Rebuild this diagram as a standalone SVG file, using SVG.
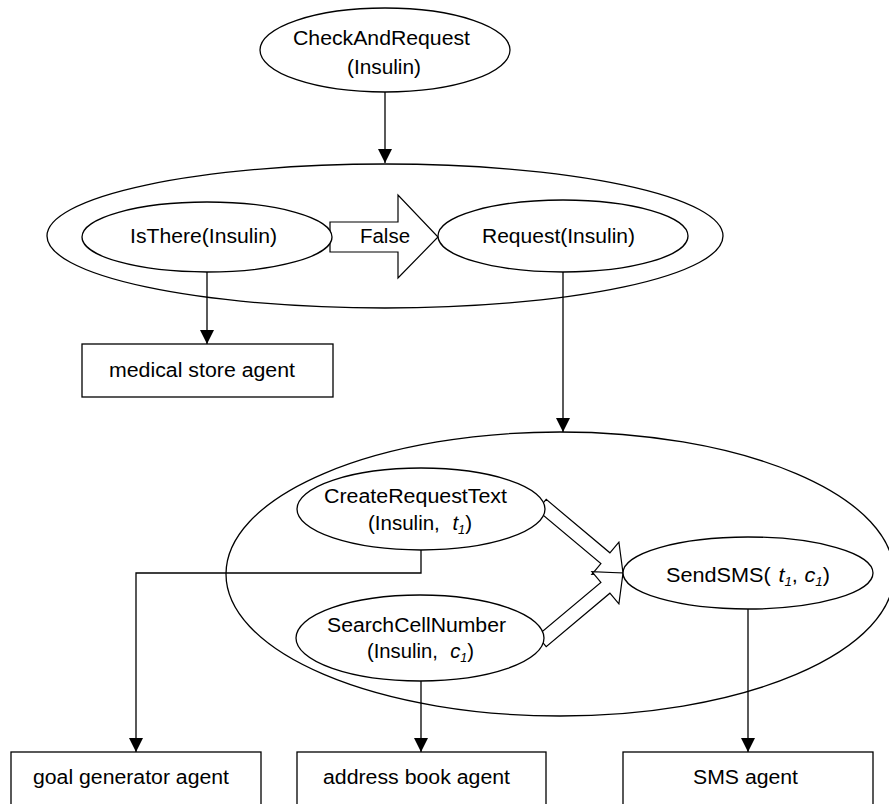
<svg xmlns="http://www.w3.org/2000/svg" width="889" height="804" viewBox="0 0 889 804">
  <style>
    .shape { fill: #ffffff; stroke: #000000; stroke-width: 1.3; }
    .outline { fill: none; stroke: #000000; stroke-width: 1.3; }
    .link { fill: none; stroke: #000000; stroke-width: 1.3; }
    .block { fill: #ffffff; stroke: #000000; stroke-width: 1.2; stroke-linejoin: miter; }
    text { font-family: "Liberation Sans", Arial, Helvetica, sans-serif; font-size: 19.5px; fill: #000000; }
    .it { font-style: italic; }
    .sub { font-style: italic; font-size: 12px; }
  </style>
  <defs>
    <marker id="head" markerWidth="14" markerHeight="14" refX="14" refY="7" orient="auto" markerUnits="userSpaceOnUse">
      <path d="M0,0 L14,7 L0,14 Z" fill="#000000"/>
    </marker>
  </defs>

  <!-- composite goal containers -->
  <g id="check-branch-group">
    <ellipse class="outline" cx="385" cy="236" rx="338" ry="72"/>
  </g>
  <g id="request-plan-group">
    <ellipse class="outline" cx="560" cy="574" rx="334" ry="142"/>
  </g>

  <!-- connectors -->
  <g id="connectors">
    <line class="link" x1="385" y1="92" x2="385" y2="163" marker-end="url(#head)"/>
    <line class="link" x1="207" y1="272" x2="207" y2="344" marker-end="url(#head)"/>
    <line class="link" x1="563" y1="272" x2="563" y2="432" marker-end="url(#head)"/>
    <polyline class="link" points="421,550 421,573 136,573 136,752" marker-end="url(#head)"/>
    <line class="link" x1="421" y1="681" x2="421" y2="752" marker-end="url(#head)"/>
    <line class="link" x1="748" y1="609" x2="748" y2="752" marker-end="url(#head)"/>
    <!-- block arrows -->
    <polygon id="false-arrow" class="block" points="330,222 398,222 398,195 438,237 398,278 398,252 330,252"/>
    <text x="360" y="243" textLength="50" lengthAdjust="spacingAndGlyphs">False</text>
    <polygon class="block" points="537.2,510.2 546.2,499.4 609.9,552.8 618.9,542.1 623,573 591.9,574.3 600.9,563.6"/>
    <polygon class="block" points="537.2,635.8 546.2,646.6 609.9,593.2 618.9,603.9 623,573 591.9,571.7 600.9,582.4"/>
  </g>

  <!-- goal nodes -->
  <g id="check-and-request">
    <ellipse class="shape" cx="385" cy="50" rx="125" ry="42"/>
    <text x="293" y="45" textLength="177" lengthAdjust="spacingAndGlyphs">CheckAndRequest</text>
    <text x="347" y="74" textLength="74" lengthAdjust="spacingAndGlyphs">(Insulin)</text>
  </g>
  <g id="is-there">
    <ellipse class="shape" cx="207" cy="237" rx="125" ry="35"/>
    <text x="130" y="243" textLength="147" lengthAdjust="spacingAndGlyphs">IsThere(Insulin)</text>
  </g>
  <g id="request">
    <ellipse class="shape" cx="563" cy="236" rx="125" ry="36"/>
    <text x="482" y="243" textLength="153" lengthAdjust="spacingAndGlyphs">Request(Insulin)</text>
  </g>
  <g id="create-request-text">
    <ellipse class="shape" cx="421" cy="509" rx="124" ry="41"/>
    <text x="324" y="503" textLength="183" lengthAdjust="spacingAndGlyphs">CreateRequestText</text>
    <text x="368" y="530" textLength="104" lengthAdjust="spacingAndGlyphs">(Insulin,<tspan class="it" dx="12">t</tspan><tspan class="sub" dy="4">1</tspan><tspan dy="-4">)</tspan></text>
  </g>
  <g id="search-cell-number">
    <ellipse class="shape" cx="420" cy="638" rx="124" ry="43"/>
    <text x="327" y="632" textLength="179" lengthAdjust="spacingAndGlyphs">SearchCellNumber</text>
    <text x="367" y="658" textLength="107" lengthAdjust="spacingAndGlyphs">(Insulin,<tspan class="it" dx="12">c</tspan><tspan class="sub" dy="4">1</tspan><tspan dy="-4">)</tspan></text>
  </g>
  <g id="send-sms">
    <ellipse class="shape" cx="748" cy="573" rx="125" ry="36"/>
    <text x="666" y="582" textLength="164" lengthAdjust="spacingAndGlyphs">SendSMS(<tspan class="it" dx="7">t</tspan><tspan class="sub" dy="4">1</tspan><tspan dy="-4">,</tspan><tspan class="it" dx="6">c</tspan><tspan class="sub" dy="4">1</tspan><tspan dy="-4">)</tspan></text>
  </g>

  <!-- agents -->
  <g id="medical-store-agent">
    <rect class="shape" x="82" y="344" width="251" height="53"/>
    <text x="109" y="377" textLength="186" lengthAdjust="spacingAndGlyphs">medical store agent</text>
  </g>
  <g id="goal-generator-agent">
    <rect class="shape" x="11" y="752" width="250" height="60"/>
    <text x="33" y="784" textLength="196" lengthAdjust="spacingAndGlyphs">goal generator agent</text>
  </g>
  <g id="address-book-agent">
    <rect class="shape" x="297" y="752" width="249" height="60"/>
    <text x="323" y="784" textLength="187" lengthAdjust="spacingAndGlyphs">address book agent</text>
  </g>
  <g id="sms-agent">
    <rect class="shape" x="623" y="752" width="250" height="60"/>
    <text x="693" y="784" textLength="105" lengthAdjust="spacingAndGlyphs">SMS agent</text>
  </g>
</svg>
